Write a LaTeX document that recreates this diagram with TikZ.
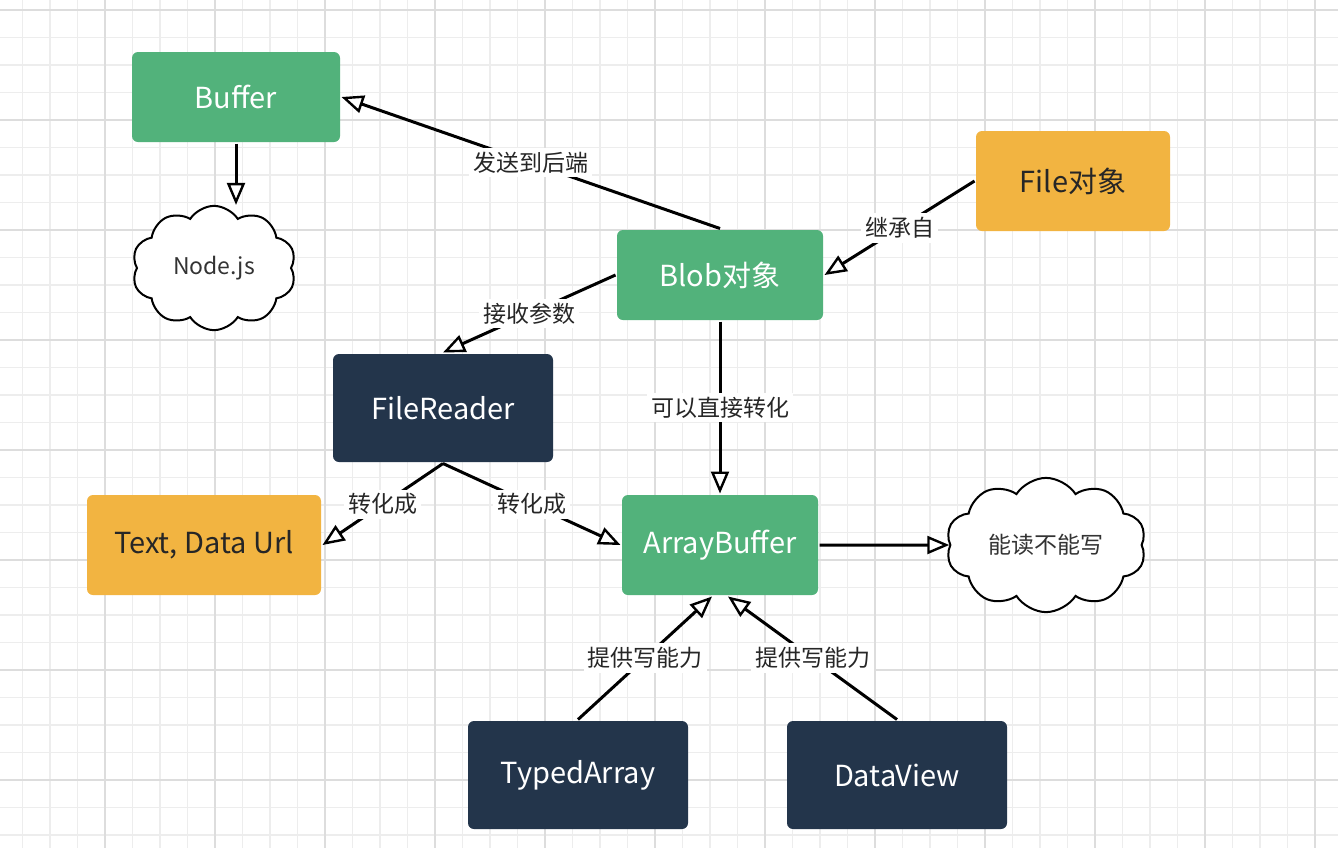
\documentclass[tikz,border=0pt]{standalone}
\usepackage{fontspec}
\setmainfont{Noto Sans CJK SC}
\usetikzlibrary{arrows.meta,shapes.symbols}
\definecolor{boxgreen}{HTML}{52B27B}
\definecolor{boxorange}{HTML}{F2B441}
\definecolor{boxnavy}{HTML}{23354B}
\definecolor{gridminor}{HTML}{EDEDED}
\definecolor{gridmajor}{HTML}{DDDDDD}
\begin{document}
\begin{tikzpicture}[x=0.5pt, y=-0.5pt, line width=1.5pt,
    box/.style = {rounded corners=3pt, text=white, font=\fontsize{14.5}{16}\selectfont, minimum width=104pt, minimum height=45pt},
    green/.style = {box, fill=boxgreen},
    orange/.style = {box, fill=boxorange, text=black!85},
    navy/.style = {box, fill=boxnavy},
    cloudy/.style = {draw, cloud, cloud puffs=10, cloud puff arc=115, cloud ignores aspect=false, inner sep=0pt, fill=white, line width=1pt, text=black!80, font=\fontsize{11.5}{13}\selectfont},
    lbl/.style = {fill=white, inner sep=2pt, text=black!85, font=\fontsize{11.5}{13}\selectfont},
    arr/.style = {-{Triangle[fill=white, length=11pt, width=9pt, line width=1.2pt]}}]
    \useasboundingbox (0,0) rectangle (1338,848);
    \fill[white] (0,0) rectangle (1338,848);
    % grid
    \foreach \i in {0,...,49}
        \draw[gridminor, line width=0.6pt] ({-5+27.5*\i},0) -- ({-5+27.5*\i},848);
    \foreach \i in {-1,...,30}
        \draw[gridminor, line width=0.6pt] (0,{10+27.5*\i}) -- (1338,{10+27.5*\i});
    \foreach \i in {0,...,12}
        \draw[gridmajor, line width=0.8pt] ({-5+110*\i},0) -- ({-5+110*\i},848);
    \foreach \i in {0,...,7}
        \draw[gridmajor, line width=0.8pt] (0,{10+110*\i}) -- (1338,{10+110*\i});
    % nodes
    \node[green] (buf) at (236,97) {Buffer};
    \node[cloudy, aspect=1.05, minimum width=82pt, minimum height=61pt] (nodejs) at (214,268) {Node.js};
    \node[green, minimum width=103pt] (blob) at (720,275) {Blob对象};
    \node[orange, minimum width=97pt, minimum height=50pt] (file) at (1073,181) {File对象};
    \node[navy, minimum width=110pt, minimum height=54pt] (reader) at (443,408) {FileReader};
    \node[orange, minimum width=117pt, minimum height=50pt] (text) at (204,545) {Text, Data Url};
    \node[green, minimum width=98pt, minimum height=50pt] (ab) at (720,545) {ArrayBuffer};
    \node[cloudy, aspect=1.45, minimum width=100pt, minimum height=63pt] (rw) at (1046,545) {能读不能写};
    \node[navy, minimum width=110pt, minimum height=54pt] (typed) at (578,775) {TypedArray};
    \node[navy, minimum width=110pt, minimum height=54pt] (view) at (897,775) {DataView};
    % connectors
    \draw[arr] (buf.south) -- (buf.south |- nodejs.north);
    \draw[arr] (blob.north) -- node[lbl] {发送到后端} (buf.east);
    \draw[arr] (file.west) -- node[lbl] {继承自} (blob.east);
    \draw[arr] (blob.west) -- node[lbl] {接收参数} (reader.north);
    \draw[arr] (blob.south) -- node[lbl] {可以直接转化} (ab.north);
    \draw[arr] (reader.south) -- node[lbl] {转化成} (text.east);
    \draw[arr] (reader.south) -- node[lbl] {转化成} (ab.west);
    \draw[arr] (ab.east) -- (rw.west);
    \draw[arr] (typed.north) -- node[lbl] {提供写能力} ([xshift=-4pt]ab.south);
    \draw[arr] (view.north) -- node[lbl] {提供写能力} ([xshift=4pt]ab.south);
\end{tikzpicture}
\end{document}
